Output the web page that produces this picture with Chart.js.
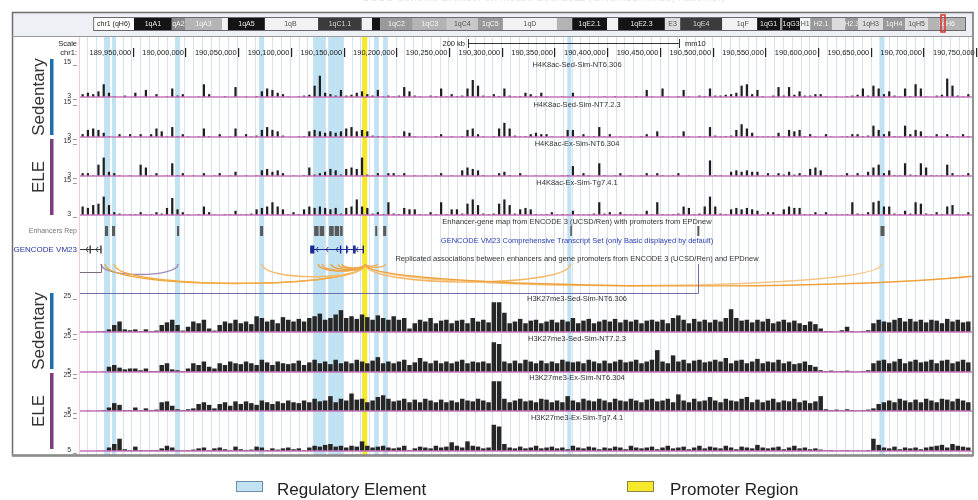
<!DOCTYPE html>
<html>
<head>
<meta charset="utf-8">
<script src="https://cdn.jsdelivr.net/npm/chart.js@4.4.1/dist/chart.umd.min.js"></script>
<style>
  html, body { margin: 0; padding: 0; background: #fff; }
  #wrap { position: relative; width: 978px; height: 500px; overflow: hidden; }
  #wrap canvas { position: absolute; left: 0; }
</style>
</head>
<body>
<div id="wrap"><canvas id="base" width="978" height="500" style="top:0"></canvas></div>
<script>
// ---------- genomic window (mm10 chr1) ----------
const VIEW_START = 189900000;
const VIEW_END = 190746000;
const BIN_SIZE = 5000;

const rulerTicks = [189950000, 190000000, 190050000, 190100000, 190150000, 190200000, 190250000, 190300000,
  190350000, 190400000, 190450000, 190500000, 190550000, 190600000, 190650000, 190700000, 190750000];
const scaleBarStart = 190268000;
const scaleBarLength = 200000;

// ---------- highlighted regions ----------
const regulatoryStarts = [189922800, 189930400, 189990200, 190069900, 190121100, 190135400, 190179000, 190187500, 190362200, 190658200];
const regulatoryEnds   = [189928500, 189934200, 189994900, 190074600, 190132500, 190149600, 190182800, 190191300, 190366000, 190663000];
const promoterStarts = [190167600];
const promoterEnds   = [190172400];

// ---------- chromosome ideogram (Mb) ----------
const bandNames  = ['1qA1', 'qA2', '1qA3', '', '1qA5', '1qB', '', '1qC1.1', '', '', '1qC2', '1qC3', '1qC4', '1qC5', '1qD', '',
  '1qE2.1', '', '1qE2.3', 'E3', '1qE4', '', '1qF', '1qG1', '', '1qG3', 'H1', 'H2.1', '', 'H2.3', '1qH3', '1qH4', '1qH5', '1qH6'];
const bandStarts = [0, 8.9, 12.0, 20.7, 22.1, 30.8, 42.8, 43.3, 53.6, 56.0, 57.9, 65.6, 73.6, 80.9, 86.8, 99.5,
  103.1, 111.3, 113.9, 124.9, 128.5, 138.4, 139.8, 146.6, 152.0, 152.5, 156.7, 159.1, 164.2, 167.3, 170.4, 176.2, 181.4, 186.8];
const bandEnds   = [8.9, 12.0, 20.7, 22.1, 30.8, 42.8, 43.3, 53.6, 56.0, 57.9, 65.6, 73.6, 80.9, 86.8, 99.5, 103.1,
  111.3, 113.9, 124.9, 128.5, 138.4, 139.8, 146.6, 152.0, 152.5, 156.7, 159.1, 164.2, 167.3, 170.4, 176.2, 181.4, 186.8, 195.5];
const bandStains = ['gpos100', 'gpos66', 'gpos33', 'gneg', 'gpos100', 'gneg', 'gneg', 'gpos75', 'gneg', 'gpos100', 'gpos50', 'gpos33', 'gpos25', 'gpos50', 'gneg', 'gpos33',
  'gpos100', 'gneg', 'gpos100', 'gpos10', 'gpos75', 'gneg', 'gneg', 'gpos100', 'gpos50', 'gpos100', 'gneg', 'gpos50', 'gpos10', 'gpos50', 'gpos10', 'gpos50', 'gpos10', 'gpos33'];
const chromLength = 195.5;

// ---------- ENCODE 3 enhancers ----------
const enhancerStarts = [189923700, 189930400, 189992000, 190070800, 190122100, 190127300, 190136300, 190141500, 190146700, 190180000, 190187500, 190365000, 190485500, 190659200];
const enhancerEnds   = [189926600, 189933200, 189994000, 190073700, 190126300, 190131600, 190140600, 190145800, 190149100, 190181900, 190190400, 190366000, 190487400, 190663000];

// ---------- GENCODE VM23 transcripts ----------
const geneTxStarts = [189880000, 190118300];
const geneTxEnds   = [189920000, 190168700];
const geneStrands  = ['-', '-'];
const geneExonStarts = [[189880000, 189909000, 189919200], [190118300, 190146500, 190152300, 190159000, 190168000]];
const geneExonEnds   = [[189881000, 189910000, 189920000], [190122300, 190147300, 190153000, 190161500, 190168700]];

// ---------- enhancer / promoter associations ----------
const assocFrom  = [189919900, 189923700, 189932300, 190072700, 190125900, 190129700, 190138200, 190144800, 190148600, 190170500, 190170500, 190170500, 190170500, 190170500, 189600000, 189834000];
const assocTo    = [189993000, 190170500, 190170500, 190170500, 190170500, 190170500, 190170500, 190170500, 190170500, 190181900, 190189400, 190365000, 190660100, 190792000, 190486500, 189919900];
const assocShape = ['arc', 'arc', 'arc', 'arc', 'arc', 'arc', 'arc', 'arc', 'arc', 'arc', 'arc', 'arc', 'arc', 'arc', 'flat', 'flat'];
const assocColor = ['#9d88b8', '#f0a53a', '#f3ad48', '#f5bb6a', '#eea23e', '#f0a846', '#eca040', '#f2b058', '#eea848', '#f2ae52', '#f2ae52', '#f4b560', '#f6c584', '#eea13a', '#6f70aa', '#7c6a7c'];

// ---------- ChIP-seq signal tracks (5 kb bins from VIEW_START) ----------
const trackNames = ['H4K8ac-Sed-Sim-NT6.306', 'H4K8ac-Sed-Sim-NT7.2.3', 'H4K8ac-Ex-Sim-NT6.304', 'H4K8ac-Ex-Sim-Tg7.4.1',
  'H3K27me3-Sed-Sim-NT6.306', 'H3K27me3-Sed-Sim-NT7.2.3', 'H3K27me3-Ex-Sim-NT6.304', 'H3K27me3-Ex-Sim-Tg7.4.1'];
const trackMin = [3, 3, 3, 3, 5, 5, 5, 5];
const trackMax = [15, 15, 15, 15, 25, 25, 25, 25];

const h4k8acSedNT6306 = [
  4,4.5,4,5,7.5,4.5,3.2,3,3.5,3, 4.5,3,5.5,3,4,3,3.2,6,3.5,4, 3,3,3.2,7.5,4,3,3,3.3,3,6.5,
  3,3.2,3,3.3,5,6,5.5,4.5,4,3.2, 3,3.2,3.5,3.8,7,10.5,4.5,4,3.5,5.5, 3.5,3.8,4.5,5,4,3.5,5.5,3.2,3.5,3.2,
  3.5,6.5,5,3.5,3.2,3,3.5,3.3,6,3.2, 4,3.3,3.5,6,9,7,3.5,3.2,4,3.3, 6,3.5,3.2,3.3,4.5,4,3.3,4.5,3.2,3,
  3,3.2,3,4.5,3,3,3.2,3,3,3.2, 3,3.3,3,3.2,3,3.3,3,5.5,3.2,3, 6,3.2,3,3.3,5.5,3.2,3,3.5,3.3,6,
  3.5,3.5,3.8,4,4.5,7,7.5,4,5.5,3.3, 3,3.5,6.5,3.5,6.5,3.8,5,3.5,3.5,4, 4,3.2,3,3.2,3,3.3,3.5,3.8,6,3.5,
  7,6,4,5,3.5,3.2,6,3.3,7.5,6, 3.2,3,3.5,3.8,9.5,7,3.5,3.2,4];
const h4k8acSedNT723 = [
  4,5.5,6,5.5,4.5,3.2,3,4,3.2,4, 3.2,4,3,4,6,5,3.2,6.5,3.3,4, 3.2,3,3.2,6,3.3,3,4,3,3.2,6,
  3,4,3.2,3.5,5.5,6.5,5.5,5,3.5,3, 3,3.2,3.3,5,5.5,5,4.5,5,4.5,5, 6,6.5,5,5.5,5,3.5,3.3,3.2,3,3.2,
  3.2,5,4.5,3.2,3,3.2,3,3.3,4,3, 3.2,3,3.3,5.5,6,4,3.2,3,3.3,6, 8,6,3.5,3.2,3.3,4,4.5,4,4,3.2,
  3,3.2,5.5,5.5,3.3,4,3.2,3.3,6.5,3.2, 4,3,3.2,3,3.2,3,3.3,4,3.2,5, 3.2,3,3.2,3.3,5,3.2,3,3.3,3.2,6.5,
  3.5,3.2,3.3,3.5,5.5,7.5,6,4.5,3.3,3.2, 3.2,3.3,4.5,3.2,5.5,5,5.5,3.3,4,3.2, 3,4,3.2,3,3.2,3.3,4,4,3.3,3.5,
  7,5.5,4,5,3.3,3.2,7,4,5.5,5, 3.3,3.2,4,3.2,4,3.3,3.2,4,3.3];
const h4k8acExNT6304 = [
  4,4,3.2,7,9.5,4.5,4,3.2,3,3.2, 3,7,6,3.2,4,3,3.2,7.5,3.3,4, 3,3.2,3,4,3,3.2,4,3,3.2,4.5,
  3,3.2,3,3.2,5,5.5,4.5,5,4,3, 3.2,3,3.3,6,3.5,4,4.5,5.5,5,3.5, 5.5,6,5.5,9.5,3.5,3.2,4,3,4,4,
  3.2,4,3,3.2,3,3.2,3,3.2,4,3, 3.2,3,5,6,5.5,5,3.3,3,3.2,4, 4.5,3.3,3,4,3.2,3,3.2,3,3.2,3,
  3,3.2,3.3,6.5,3.3,4,3.2,3,7.5,3.3, 3,3.2,4,3,3.2,3,3.2,4,3.2,4, 3.2,3,3.2,4,3,3.2,3,3.2,3,8.5,
  3.3,3.2,3,4.5,5,4.5,5,4.5,4.5,3.2, 4,3.2,4,3.5,4.5,3.5,4,3.3,5.5,6, 5,3.3,3.2,3,3.2,4,3.2,4,3.2,4.5,
  6,7,4,5,3.3,3.2,7.5,3.5,3.3,7.5, 6,3.3,3.2,3.3,7,4,3.2,3.3,4];
const h4k8acExTg741 = [
  6,5.5,6.5,7,9.5,6.5,4,3.5,3.2,3.3, 3.3,4,3.2,3.3,4,3.5,5.5,9,5,4, 3.2,3,3.3,6,4,3.2,3,3.3,3.2,4.5,
  3.2,3.3,3.5,5,5.5,6,7.5,6,5,3.3, 4,3.3,5,6,5.5,6,5.5,5,5.5,3.5, 5.5,6,8.5,6,5.5,3.5,4,3.3,7.5,3.5,
  3.3,5.5,5,5,3.3,3.2,4,3.3,7.5,3.3, 5,5,3.5,7,8.5,6.5,3.5,3.3,3.5,7, 8.5,6.5,3.5,5,5.5,5,3.3,3.2,3.3,4,
  3.2,3.3,3.2,4.5,3.3,3.2,3.3,3.5,7.5,3.5, 4,3.2,4,3.3,3.2,3.3,3.2,4.5,3.3,7.5, 3.3,3.2,3.3,3.5,6,5.5,3.3,3.5,6,9.5,
  6,3.5,3.3,5,5.5,5,5.5,5,4.5,3.3, 4,4,3.3,5,6,5.5,5.5,3.3,3.3,4, 3.3,4,3.2,3.3,3.2,3.3,7.5,3.5,3.3,4,
  7.5,8,6,6,3.5,3.3,4.5,3.5,7.5,7, 3.5,3.3,4,3.3,6,6.5,3.3,3.2,4];
const h3k27me3SedNT6306 = [
  5,5.2,5,5.3,5.5,6.5,9,11,6.5,6, 6.5,5.5,6.5,5.5,5.8,9,10.5,12,9,5.8, 8,11,10,12,7,5.8,9,11,10,12,
  10,11,9.5,14,13,11,12,10,13.5,12, 11,12.5,11,13,14,15.5,12,13,15,17.5, 13,14,12.5,15,13.5,12,14.5,13,12,14,
  12,13,7,10,12,11,13,10,11.5,12, 10,11.5,12,10,13,11,12,10.5,22,22, 16,10,11,12.5,10,11.5,12,10,11,12,
  10.5,12,11,13,10,11.5,12.5,10,11,12, 11,12.5,10.5,12,11,12,10,11.5,12,11, 12,10,13,14.5,12,10,12.5,11,12,10.5,
  12,11,13,18,13,11.5,12,10.5,12,11, 12.5,10,11,12,10.5,11.5,10,9,11,9.5, 7,5.5,5.5,5.3,6,8,5.5,5.2,5.5,6,
  10,12,11,10.5,12,13,11,12.5,11,12, 10.5,12,11.5,10,12.5,11,12,10.5,11];
const h3k27me3SedNT723 = [
  5,5,5.2,5,5.3,8,9,7.5,6.5,7, 7,6,7,5.5,5.5,9,10,6.5,6,5.5, 7,10,9,11,8,7,10,9,11,10,
  9.5,11,10,9,12,10.5,9,11,10,9.5, 10,11.5,9,10.5,12,10,11,9.5,12,10, 11,10,12,11,10,11.5,13.5,10,11,10,
  11,12,9,10.5,13,11,10,11.5,10,11, 10,11,12,10,11,10.5,11,10,22,21, 11,10,11.5,10,12,11,10,11.5,10,11,
  10,12,11,10.5,11,10,12,11,10,11.5, 10,11,12,10.5,11,12,10,11,12,17.5, 11,10,14.5,11,12,10,11.5,12,10.5,11,
  12,11,13,10,11.5,12,10,11,12.5,10, 11,10.5,12,10,11,9.5,10,11,9,8, 6,5.5,5.8,5.3,5.5,5.8,5.3,5.2,5.5,6,
  10,11.5,12,10,11,12.5,10,11,12,10.5, 11,12,10,11.5,12,10,11,12,10.5];
const h3k27me3ExNT6304 = [
  5,5.2,5,5.2,5.5,7,9.5,8.5,5.5,5.5, 7,5.5,6.5,5.5,5.8,10,10.5,8,6,5.5, 6,6.5,9,10,8.5,6.5,9,10,8,10.5,
  9,10.5,9.5,8.5,11,10,9,10.5,9.5,11, 10,9.5,11,10,12,10.5,11,13.5,10,12, 11,15,11.5,12,10,11,13,14,12,10.5,
  11,12,10,11.5,10,12,11,10,11.5,10, 11,10,12,11,10.5,12,11,10,22,22, 12,10,11,12,10.5,11,10,12,11.5,10,
  11,10,13.5,11,10,12,11,10.5,12,11, 10,12,11,10.5,12,11,10,11.5,12,10.5, 11,12,10,14.5,11,10,12,10.5,11,13,
  11,10,12,11,10.5,12,13,10,11.5,10, 11,12,10,11,10.5,12,10,11,9.5,10.5, 13.5,6,5.5,5.8,5.3,6,5.5,5.3,5.5,5.8,
  6.5,9,10,11,10,12,11,10,11.5,10, 12,11,10,12,11.5,10.5,12,11,10];
const h3k27me3ExTg741 = [
  5,5,5,5.2,5.2,7,9,12,6,5.5, 7.5,5.5,5.3,5.5,5.5,6.5,8,7,5.5,5.3, 5.5,5.8,6.5,7,5.5,6.5,7,6,5.5,7.5,
  6,5.5,5.8,7.5,7,5.5,6.5,5.8,6.5,7, 6,6.5,5.5,7,8,7.5,8.5,9,7.5,8, 7,8,7.5,10.5,8,7,7.5,8,7,6.5,
  7,8,5.5,6.5,7.5,7,6.5,8,7,7.5, 10,8,7,10.5,8,7.5,6.5,7,20,19, 9,7,6.5,7.5,6.5,7,8,6.5,7,7.5,
  6.5,7,6,8,7,6.5,7.5,7,6,7, 6.5,7.5,7,6,8,7,6.5,7,7.5,6, 7,8,6.5,7,7.5,6,7,8,6.5,7.5,
  7,6.5,8,7,6,7.5,7,6.5,8.5,7, 6.5,7,7.5,6,7,8,6.5,7,6,6.5, 5.8,5.3,5.5,5.2,5.3,5.5,5.2,5.3,5.2,5.5,
  12,8.5,7,6.5,7.5,6,7,6.5,7,6, 7,7.5,8,8.5,7,9,8,7.5,7];

const trackValues = [h4k8acSedNT6306, h4k8acSedNT723, h4k8acExNT6304, h4k8acExTg741,
  h3k27me3SedNT6306, h3k27me3SedNT723, h3k27me3ExNT6304, h3k27me3ExTg741];

// ---------- layout and style ----------
const FONT = '"Liberation Sans", Arial, Helvetica, sans-serif';
const font = (size, weight) => (weight ? weight + ' ' : '') + size + 'px ' + FONT;
const PAD_LEFT = 80, PAD_RIGHT = 6;
const LABEL_CX = 577;
const TRACK_ROWS = [
  { top: 63, bottom: 97 }, { top: 103, bottom: 137 }, { top: 142, bottom: 176 }, { top: 181, bottom: 215 },
  { top: 297, bottom: 332 }, { top: 337, bottom: 372 }, { top: 376, bottom: 411 }, { top: 416, bottom: 451 }];
const GUIDE_STEP = 8350, GUIDE_OFFSET = 7000;
const HIGHLIGHT_TOP = 37, HIGHLIGHT_BOTTOM = 455;
const REG_COLOR = '#c0e2f2', PROMOTER_COLOR = '#f6e82b';
const STAIN_FILL = { gneg: '#f2f2f2', gpos10: '#dcdcdc', gpos25: '#c8c8c8', gpos33: '#b4b4b4', gpos50: '#999999', gpos66: '#8a8a8a', gpos75: '#3c3c3c', gpos100: '#141414' };
const STAIN_TEXT = { gneg: '#555', gpos10: '#555', gpos25: '#555', gpos33: '#f4f4f4', gpos50: '#f4f4f4', gpos66: '#f4f4f4', gpos75: '#d8d8d8', gpos100: '#e8e8e8' };
const GENE_COLORS = ['#3a3a3a', '#1c2a8f'];

Chart.defaults.font.family = FONT;

const wrap = document.getElementById('wrap');

// Browser frame, ideogram, ruler, highlights and annotation tracks
const browserFrame = {
  id: 'browserFrame',
  afterDraw(chart) {
    const ctx = chart.ctx;
    const X = chart.scales.x, C = chart.scales.xChrom;
    const L = chart.chartArea.left, R = chart.chartArea.right;
    const gx = v => X.getPixelForValue(v);
    const cx = v => C.getPixelForValue(v);
    ctx.save();

    // page title, cut by the top edge
    ctx.fillStyle = '#e4e4e4';
    ctx.font = font(11);
    ctx.textAlign = 'center';
    ctx.textBaseline = 'alphabetic';
    ctx.fillText('UCSC Genome Browser on Mouse Dec. 2011 (GRCm38/mm10) Assembly', 544, 0.5);

    // top band behind the ideogram
    ctx.fillStyle = '#edf0f5';
    ctx.fillRect(12, 12, 961, 24);

    // guidelines
    ctx.strokeStyle = 'rgba(150,178,210,0.38)';
    ctx.lineWidth = 1;
    for (let g = VIEW_START + GUIDE_OFFSET; g < VIEW_END; g += GUIDE_STEP) {
      const p = Math.round(gx(g)) + 0.5;
      ctx.beginPath(); ctx.moveTo(p, HIGHLIGHT_TOP); ctx.lineTo(p, HIGHLIGHT_BOTTOM); ctx.stroke();
    }

    // highlighted regions
    ctx.fillStyle = REG_COLOR;
    regulatoryStarts.forEach((s, k) => {
      const a = gx(s), b = gx(regulatoryEnds[k]);
      ctx.fillRect(a, HIGHLIGHT_TOP, b - a, HIGHLIGHT_BOTTOM - HIGHLIGHT_TOP);
    });
    ctx.fillStyle = PROMOTER_COLOR;
    promoterStarts.forEach((s, k) => {
      const a = gx(s), b = gx(promoterEnds[k]);
      ctx.fillRect(a, HIGHLIGHT_TOP, b - a, HIGHLIGHT_BOTTOM - HIGHLIGHT_TOP);
    });

    // data-area left edge
    ctx.strokeStyle = '#f2c9d4';
    ctx.beginPath(); ctx.moveTo(L - 0.5, HIGHLIGHT_TOP); ctx.lineTo(L - 0.5, HIGHLIGHT_BOTTOM); ctx.stroke();

    // frame
    ctx.strokeStyle = '#6e6e6e';
    ctx.lineWidth = 1.5;
    ctx.strokeRect(12.5, 12.5, 960.5, 443);
    ctx.strokeStyle = '#999';
    ctx.lineWidth = 1;
    ctx.beginPath(); ctx.moveTo(12, 36.5); ctx.lineTo(973, 36.5); ctx.stroke();
    ctx.strokeStyle = '#8c8c8c';
    ctx.lineWidth = 2.5;
    ctx.beginPath(); ctx.moveTo(12, 455.5); ctx.lineTo(973, 455.5); ctx.stroke();

    // ideogram
    const iTop = 17, iBot = 30;
    ctx.fillStyle = '#fff';
    ctx.fillRect(cx(-9.6), iTop, cx(0) - cx(-9.6), iBot - iTop);
    ctx.fillStyle = '#222';
    ctx.font = font(7);
    ctx.textAlign = 'center';
    ctx.textBaseline = 'middle';
    ctx.fillText('chr1 (qH6)', (cx(-9.6) + cx(0)) / 2, (iTop + iBot) / 2 + 0.5);
    bandStarts.forEach((s, k) => {
      const a = cx(s), b = cx(bandEnds[k]);
      ctx.fillStyle = STAIN_FILL[bandStains[k]];
      ctx.fillRect(a, iTop, b - a, iBot - iTop);
      if (bandNames[k]) {
        ctx.save();
        ctx.beginPath(); ctx.rect(a, iTop, b - a, iBot - iTop); ctx.clip();
        ctx.fillStyle = STAIN_TEXT[bandStains[k]];
        ctx.fillText(bandNames[k], (a + b) / 2, (iTop + iBot) / 2 + 0.5);
        ctx.restore();
      }
    });
    ctx.strokeStyle = '#6a6a6a';
    ctx.lineWidth = 1;
    ctx.strokeRect(cx(-9.6) + 0.5, iTop + 0.5, cx(chromLength) - cx(-9.6), iBot - iTop);
    // current position marker
    const mid = (VIEW_START + VIEW_END) / 2 / 1e6;
    ctx.strokeStyle = '#e0302a';
    ctx.lineWidth = 1.5;
    ctx.strokeRect(cx(mid) - 2, iTop - 2, 4, iBot - iTop + 4);

    // ruler
    ctx.fillStyle = '#222';
    ctx.font = font(7.5);
    ctx.textAlign = 'right';
    ctx.textBaseline = 'middle';
    ctx.fillText('Scale', 77, 44);
    ctx.fillText('chr1:', 77, 52.5);
    rulerTicks.forEach(t => {
      const p = gx(t);
      ctx.fillText(t.toLocaleString('en-US'), p - 1.5, 52.5);
      ctx.fillRect(Math.round(p), 48, 1.2, 9);
    });
    const sa = gx(scaleBarStart), sb = gx(scaleBarStart + scaleBarLength);
    ctx.fillText((scaleBarLength / 1000) + ' kb', sa - 3, 44);
    ctx.textAlign = 'left';
    ctx.fillText('mm10', sb + 6, 44);
    ctx.strokeStyle = '#333';
    ctx.lineWidth = 1;
    ctx.beginPath();
    ctx.moveTo(sa, 43.5); ctx.lineTo(sb, 43.5);
    ctx.moveTo(Math.round(sa) + 0.5, 39); ctx.lineTo(Math.round(sa) + 0.5, 48);
    ctx.moveTo(Math.round(sb) + 0.5, 39); ctx.lineTo(Math.round(sb) + 0.5, 48);
    ctx.stroke();

    // group labels on the left
    const groups = [
      { name: 'Sedentary', color: '#1f6fae', top: 59, bottom: 135 },
      { name: 'ELE', color: '#7b3d7c', top: 139, bottom: 215 },
      { name: 'Sedentary', color: '#1f6fae', top: 293, bottom: 369 },
      { name: 'ELE', color: '#7b3d7c', top: 373, bottom: 449 }];
    groups.forEach(gp => {
      ctx.fillStyle = gp.color;
      ctx.fillRect(50, gp.top, 3.5, gp.bottom - gp.top);
      ctx.save();
      ctx.translate(39, (gp.top + gp.bottom) / 2);
      ctx.rotate(-Math.PI / 2);
      ctx.fillStyle = '#333';
      ctx.font = font(17);
      ctx.textAlign = 'center';
      ctx.textBaseline = 'middle';
      ctx.fillText(gp.name, 0, 0);
      ctx.restore();
    });

    // enhancer track
    ctx.font = font(7.5);
    ctx.textAlign = 'center';
    ctx.textBaseline = 'middle';
    ctx.fillStyle = '#333';
    ctx.fillText('Enhancer-gene map from ENCODE 3 (UCSD/Ren) with promoters from EPDnew', LABEL_CX, 222);
    ctx.textAlign = 'right';
    ctx.fillStyle = '#777';
    ctx.font = font(7);
    ctx.fillText('Enhancers Rep', 77, 231);
    ctx.fillStyle = '#5a5a5a';
    enhancerStarts.forEach((s, k) => {
      const a = gx(s), b = gx(enhancerEnds[k]);
      ctx.fillRect(a, 226, Math.max(1.6, b - a), 10);
    });

    // GENCODE track
    ctx.font = font(7.5);
    ctx.textAlign = 'center';
    ctx.fillStyle = '#2d3fae';
    ctx.fillText('GENCODE VM23 Comprehensive Transcript Set (only Basic displayed by default)', LABEL_CX, 240.5);
    ctx.textAlign = 'right';
    ctx.font = font(8);
    ctx.fillStyle = '#23359a';
    ctx.fillText('GENCODE VM23', 77, 249.5);
    const GY = 249.5;
    geneTxStarts.forEach((s, k) => {
      const col = GENE_COLORS[k];
      const a = Math.max(L, gx(s)), b = Math.min(R, gx(geneTxEnds[k]));
      ctx.strokeStyle = col;
      ctx.fillStyle = col;
      ctx.lineWidth = 1;
      ctx.beginPath(); ctx.moveTo(a, GY); ctx.lineTo(b, GY); ctx.stroke();
      const dir = geneStrands[k] === '-' ? -1 : 1;
      ctx.beginPath();
      for (let p = a + 6; p < b - 5; p += 10) {
        ctx.moveTo(p - 2 * dir, GY - 2.5); ctx.lineTo(p, GY); ctx.lineTo(p - 2 * dir, GY + 2.5);
      }
      ctx.stroke();
      geneExonStarts[k].forEach((es, j) => {
        const ee = geneExonEnds[k][j];
        const ea = gx(es), eb = gx(ee);
        if (eb < L || ea > R) return;
        ctx.fillRect(Math.max(L, ea), GY - 4, Math.max(1.4, eb - Math.max(L, ea)), 8);
      });
    });

    // association track
    ctx.font = font(7.5);
    ctx.textAlign = 'center';
    ctx.fillStyle = '#333';
    ctx.fillText('Replicated associations between enhancers and gene promoters from ENCODE 3 (UCSD/Ren) and EPDnew', LABEL_CX, 259);
    const AT = 264;
    ctx.save();
    ctx.beginPath(); ctx.rect(L, AT - 3, R - L, 34); ctx.clip();
    assocFrom.forEach((f, k) => {
      const a = gx(f), b = gx(assocTo[k]);
      const d = Math.abs(b - a);
      ctx.strokeStyle = assocColor[k];
      ctx.beginPath();
      if (assocShape[k] === 'flat') {
        const depth = 30 * (1 - Math.exp(-d / 300));
        const vis = (a >= L && a <= R) ? a : b;
        const off = vis === a ? b : a;
        ctx.lineWidth = 1;
        const v = Math.round(vis) + 0.5, lev = Math.round(AT + depth) + 0.5;
        ctx.moveTo(v, AT); ctx.lineTo(v, lev); ctx.lineTo(off, lev);
      } else {
        const depth = 22 * (1 - Math.exp(-d / 120));
        const c = depth * 4 / 3;
        ctx.lineWidth = 1.4;
        ctx.moveTo(a, AT);
        ctx.bezierCurveTo(a, AT + c, b, AT + c, b, AT);
      }
      ctx.stroke();
    });
    ctx.restore();

    // legend
    ctx.lineWidth = 1;
    ctx.fillStyle = REG_COLOR;
    ctx.fillRect(236, 481, 26, 10);
    ctx.strokeStyle = '#6d8ea6';
    ctx.strokeRect(236.5, 481.5, 26, 10);
    ctx.fillStyle = PROMOTER_COLOR;
    ctx.fillRect(627, 481, 26, 10);
    ctx.strokeStyle = '#8c8440';
    ctx.strokeRect(627.5, 481.5, 26, 10);
    ctx.fillStyle = '#222';
    ctx.font = font(17);
    ctx.textAlign = 'left';
    ctx.textBaseline = 'middle';
    ctx.fillText('Regulatory Element', 277, 490);
    ctx.fillText('Promoter Region', 670, 490);

    ctx.restore();
  }
};

new Chart(document.getElementById('base'), {
  type: 'scatter',
  data: { datasets: [] },
  options: {
    responsive: false,
    animation: false,
    devicePixelRatio: 1,
    events: [],
    layout: { padding: { left: PAD_LEFT, right: PAD_RIGHT, top: 0, bottom: 0 } },
    plugins: { legend: { display: false }, tooltip: { enabled: false } },
    scales: {
      x: { type: 'linear', min: VIEW_START, max: VIEW_END, display: false },
      xChrom: { type: 'linear', axis: 'x', min: -12.70, max: 197.15, display: false },
      y: { type: 'linear', min: 0, max: 1, display: false }
    }
  },
  plugins: [browserFrame]
});

// Per-track decorations: baseline, data range and centre label
const trackDecor = {
  id: 'trackDecor',
  afterDatasetsDraw(chart, args, opts) {
    const ctx = chart.ctx, Y = chart.scales.y, ca = chart.chartArea;
    const yb = Y.getPixelForValue(Y.min), yt = Y.getPixelForValue(Y.max);
    ctx.save();
    ctx.strokeStyle = '#c673ba';
    ctx.lineWidth = 1.6;
    ctx.beginPath(); ctx.moveTo(ca.left, yb); ctx.lineTo(ca.right, yb); ctx.stroke();
    ctx.fillStyle = '#333';
    ctx.font = font(7);
    ctx.textAlign = 'right';
    ctx.textBaseline = 'alphabetic';
    ctx.fillText(Y.max + ' _', 77, yt + 1);
    ctx.fillText(Y.min + ' _', 77, yb + 1);
    ctx.textAlign = 'center';
    ctx.textBaseline = 'middle';
    ctx.font = font(7.5);
    ctx.fillText(opts.label, LABEL_CX, yt + 1.5);
    ctx.restore();
  }
};

trackValues.forEach((values, i) => {
  const row = TRACK_ROWS[i];
  const padTop = 7, padBottom = 3;
  const cv = document.createElement('canvas');
  cv.width = 978;
  cv.height = row.bottom - row.top + padTop + padBottom;
  cv.style.top = (row.top - padTop) + 'px';
  wrap.appendChild(cv);
  const dense = trackMax[i] > 15;
  new Chart(cv, {
    type: 'bar',
    data: {
      datasets: [{
        data: values.map((v, k) => ({ x: VIEW_START + BIN_SIZE * (k + 0.5), y: v })),
        backgroundColor: dense ? '#262626' : '#1e1e1e',
        borderWidth: 0,
        categoryPercentage: 1,
        barPercentage: dense ? 0.85 : 0.42
      }]
    },
    options: {
      responsive: false,
      animation: false,
      devicePixelRatio: 1,
      events: [],
      layout: { padding: { left: PAD_LEFT, right: PAD_RIGHT, top: padTop, bottom: padBottom } },
      plugins: { legend: { display: false }, tooltip: { enabled: false }, trackDecor: { label: trackNames[i] } },
      scales: {
        x: { type: 'linear', min: VIEW_START, max: VIEW_END, offset: false, display: false },
        y: { type: 'linear', min: trackMin[i], max: trackMax[i], display: false }
      }
    },
    plugins: [trackDecor]
  });
});
</script>
</body>
</html>
